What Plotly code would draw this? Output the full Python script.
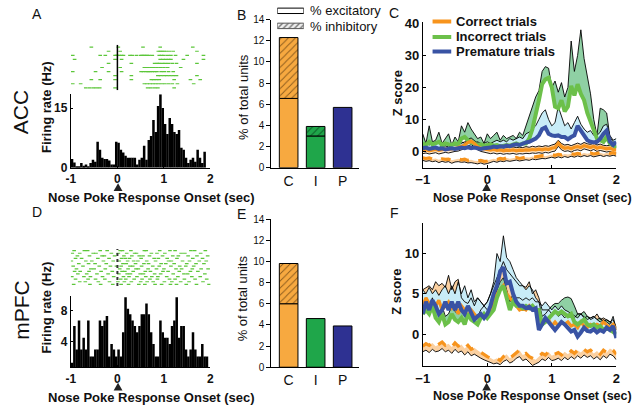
import numpy as np
import plotly.graph_objects as go

W, H = 640, 412
def X(px): return px / W
def Y(py): return 1 - py / H

FONT = "Liberation Sans, Arial, Helvetica, sans-serif"
ORANGE_BAR = "#f7a940"; GREEN_BAR = "#1fa64a"; BLUE_BAR = "#2e3192"
ORANGE = "#f7941d"; GREEN = "#6cc04a"; BLUE = "#3953a4"
F_ORANGE = "#fbd0a0"; F_GREEN = "#8fd0a4"; F_BLUE = "#c8ecf7"
RASTER = "#5cc63a"

# ---------------- data ----------------
# PSTH (0.05 s bins starting at -1 s)
hist_acc = [2.2,1.3,0.3,0.3,1.2,0.5,0.8,0.3,1.2,2.0, 1.5,6.5,4.5,2.5,2.2,2.2,1.8,0.8,0.8,6.5,
            6.3,4.5,3.8,3.0,2.5,2.5,2.5,2.5,0.8,2.0, 2.5,5.5,2.0,7.0,8.0,12.0,9.0,15.5,18.5,15.0,
            11.0,8.5,12.5,11.0,9.0,8.5,9.5,5.0,4.5,2.5, 1.2,2.0,2.5,1.5,4.5,2.5,1.2,4.0]
hist_mpfc = [1.3,6.0,3.0,6.7,3.0,4.5,3.0,6.7,2.1,2.1, 3.0,3.0,6.7,6.0,6.7,7.3,2.1,3.7,3.0,2.1,
             3.0,2.1,5.2,9.7,8.2,7.5,6.7,6.0,5.2,6.0, 7.5,7.5,8.9,7.5,5.2,3.7,2.1,2.1,6.7,5.2,
             4.5,4.5,3.7,6.0,6.7,9.7,4.5,6.0,6.0,3.0, 2.1,3.0,5.2,3.0,2.1,2.1,3.7,2.1,2.1]

# spike rasters (s), one list per trial
raster_acc = [
    [-0.56, 0.02, 0.55, 0.92, 1.62],
    [-0.19, 0.06, 0.88, 0.92, 0.96, 1.0, 1.05, 1.12, 1.2, 1.71],
    [-0.96, -0.37, -0.26, -0.05, -0.02, 0.0, 0.04, 0.09, 0.13, 0.27, 0.32, 0.41, 0.5, 0.53, 0.57, 0.6, 0.64, 0.68, 0.75, 0.9, 0.95, 1.0, 1.08, 1.15, 1.25, 1.5, 1.85],
    [-0.92, -0.05, 0.09, 0.92, 0.98, 1.04, 1.1, 1.15, 1.42, 1.85],
    [-0.19, 0.3, 0.8, 0.86, 0.9, 0.97, 1.03, 1.1, 1.18, 1.27, 1.71],
    [-0.33, 0.06, 0.58, 0.65, 0.72, 0.78, 0.85, 0.92, 1.0, 1.08, 1.36],
    [-0.96, -0.47, -0.19, 0.09, 0.51, 0.56, 0.62, 0.66, 0.7, 0.75, 0.8, 0.85, 0.94, 1.01, 1.1, 1.2],
    [-0.05, 0.3, 0.87, 0.93, 1.0, 1.06, 1.13, 1.2, 1.27, 1.71],
    [-0.56, -0.37, -0.05, 0.3, 0.73, 0.78, 0.84, 0.9, 1.22, 1.57, 1.78],
    [-0.96, -0.79, 0.58, 0.64, 0.7, 0.76, 0.82, 0.88, 0.95, 1.02, 1.1, 1.18, 1.29, 1.64],
    [-0.68, -0.6, -0.52, -0.45, -0.38, -0.05, 0.65, 0.72, 0.8, 0.87, 1.22],
]
raster_mpfc = [
    [-0.93, -0.71, -0.64, -0.37, -0.22, 0.06, 0.11, 0.29, 0.58, 0.62, 0.91, 1.13, 1.24, 1.58, 1.66, 1.89],
    [-0.97, -0.81, -0.52, -0.46, -0.13, 0.02, 0.2, 0.37, 0.41, 0.73, 0.85, 1.02, 1.37, 1.45, 1.79],
    [-0.86, -0.6, -0.33, -0.28, -0.06, 0.14, 0.31, 0.47, 0.55, 0.69, 0.97, 1.19, 1.31, 1.52, 1.71, 1.94],
    [-0.9, -0.77, -0.42, -0.18, 0.09, 0.17, 0.26, 0.51, 0.79, 0.88, 1.07, 1.28, 1.62, 1.83],
    [-0.99, -0.68, -0.55, -0.3, -0.09, 0.04, 0.22, 0.35, 0.44, 0.63, 0.82, 1.1, 1.16, 1.4, 1.55, 1.76, 1.91],
    [-0.83, -0.62, -0.48, -0.24, 0.12, 0.19, 0.39, 0.57, 0.67, 0.94, 1.04, 1.22, 1.49, 1.69, 1.86],
    [-0.95, -0.74, -0.39, -0.15, -0.02, 0.08, 0.27, 0.33, 0.52, 0.76, 0.9, 1.15, 1.34, 1.47, 1.64],
    [-0.88, -0.57, -0.5, -0.26, 0.05, 0.23, 0.4, 0.45, 0.66, 0.84, 1.0, 1.26, 1.38, 1.61, 1.8, 1.95],
    [-0.92, -0.8, -0.61, -0.35, -0.11, 0.1, 0.16, 0.34, 0.6, 0.71, 0.98, 1.09, 1.33, 1.57, 1.73],
    [-0.85, -0.66, -0.44, -0.2, 0.03, 0.21, 0.28, 0.49, 0.56, 0.8, 0.93, 1.2, 1.43, 1.51, 1.88],
    [-0.98, -0.72, -0.58, -0.32, -0.08, 0.13, 0.25, 0.42, 0.61, 0.74, 0.87, 1.06, 1.3, 1.6, 1.78],
    [-0.9, -0.63, -0.47, -0.27, 0.07, 0.18, 0.36, 0.53, 0.7, 0.86, 1.12, 1.24, 1.44, 1.67, 1.92],
    [-0.81, -0.69, -0.41, -0.17, 0.01, 0.15, 0.3, 0.5, 0.64, 0.77, 1.01, 1.17, 1.36, 1.54, 1.84],
    [-0.94, -0.59, -0.36, -0.1, 0.08, 0.24, 0.46, 0.59, 0.81, 0.95, 1.14, 1.27, 1.48, 1.7, 1.97],
]

# % of total units
categories = ["C", "I", "P"]
bar_colors = [ORANGE_BAR, GREEN_BAR, BLUE_BAR]
hatch_colors = ["#8a5a1c", "#0c5a25", "#15174f"]
acc_exc = [6.55, 3.0, 5.7]
acc_inh = [5.75, 0.9, 0.0]
mpfc_exc = [6.0, 4.6, 3.9]
mpfc_inh = [3.8, 0.0, 0.0]

# Z-score time courses (every 0.05 s from -1 to 2 s)
acc_correct_exc = [0.3,0.5,0.2,0.4,0.6,0.3,0.5,0.8,0.6,0.9, 1.0,1.2,1.5,2.0,2.8,3.2,2.5,1.5,1.0,0.8,
                   0.5,0.4,0.6,0.3,0.5,0.2,0.4,0.3,0.5,0.2, 0.4,0.3,0.5,0.4,0.6,0.5,0.7,0.5,0.8,0.6,
                   1.0,1.2,2.6,1.5,1.0,1.2,0.8,1.3,1.5,1.2, 1.8,1.5,1.2,1.6,1.0,1.3,1.0,0.8,1.0,0.6, 0.5]
acc_correct_exc_hi = [1.2,1.4,1.0,1.5,1.4,1.2,1.6,1.7,1.4,1.8, 2.0,2.1,2.6,3.0,3.8,4.2,3.4,2.5,1.9,1.8,
                      1.4,1.3,1.6,1.2,1.4,1.1,1.3,1.3,1.4,1.2, 1.3,1.2,1.5,1.3,1.6,1.4,1.7,1.5,1.8,1.6,
                      2.0,2.3,3.5,2.5,2.0,2.2,1.8,2.3,2.6,2.2, 2.8,2.4,2.2,2.6,2.0,2.3,1.9,1.8,1.9,1.5, 1.4]
acc_correct_exc_lo = [-0.7,-0.5,-0.8,-0.6,-0.4,-0.8,-0.5,-0.3,-0.5,-0.2, 0.0,0.1,0.5,0.9,1.7,2.1,1.5,0.5,0.0,-0.3,
                      -0.6,-0.7,-0.5,-0.8,-0.6,-0.9,-0.7,-0.8,-0.6,-0.9, -0.7,-0.8,-0.6,-0.7,-0.5,-0.6,-0.4,-0.6,-0.3,-0.5,
                      -0.1,0.1,1.6,0.5,0.0,0.2,-0.2,0.3,0.5,0.2, 0.8,0.5,0.2,0.6,0.0,0.3,0.0,-0.2,0.0,-0.4, -0.5]
acc_correct_inh = [-2.0,-2.2,-2.0,-2.4,-2.2,-2.6,-2.3,-2.5,-2.4,-2.8, -2.5,-2.3,-2.6,-2.4,-2.8,-2.6,-2.9,-3.0,-2.8,-3.1,
                   -3.0,-2.6,-2.3,-2.5,-2.2,-2.4,-2.0,-2.3,-2.1,-1.9, -2.2,-2.0,-1.8,-1.9,-1.6,-1.7,-1.5,-1.3,-1.5,-1.2,
                   -1.0,-1.2,-0.9,-1.1,-0.8,-1.0,-0.7,-0.9,-0.6,-0.8, -0.5,-0.7,-0.5,-0.8,-0.6,-0.4,-0.7,-0.5,-0.6,-0.4, -0.7]
acc_correct_inh_lo = [-2.8,-3.1,-2.9,-3.2,-3.0,-3.5,-3.1,-3.4,-3.2,-3.7, -3.3,-3.2,-3.4,-3.3,-3.6,-3.5,-3.7,-3.9,-3.6,-4.0,
                      -3.8,-3.5,-3.1,-3.4,-3.0,-3.2,-2.9,-3.1,-3.0,-2.7, -3.0,-2.9,-2.6,-2.8,-2.4,-2.6,-2.3,-2.2,-2.3,-2.1,
                      -1.8,-2.1,-1.7,-2.0,-1.6,-1.9,-1.5,-1.8,-1.4,-1.7, -1.3,-1.6,-1.3,-1.7,-1.4,-1.2,-1.6,-1.3,-1.5,-1.2, -1.5]
acc_incorrect = [2.5,2.0,3.0,2.2,2.5,3.0,2.0,2.5,2.2,2.0, 2.5,2.2,4.0,4.5,3.5,2.8,2.5,2.0,2.2,1.8,
                 2.0,2.2,1.8,2.0,1.5,1.8,2.0,1.8,2.2,2.5, 2.0,2.5,2.5,4.0,7.0,11.0,16.0,21.0,22.5,23.0,
                 20.0,14.0,13.5,16.0,12.5,14.0,20.5,17.5,21.0,18.0, 16.0,12.0,9.5,6.5,4.0,3.5,3.0,4.5,2.5,2.0, 1.0]
acc_incorrect_hi = [5.5,2.5,8.0,3.0,3.5,6.0,2.5,4.0,5.5,2.0, 4.5,3.0,8.0,6.0,9.0,7.0,5.5,4.0,4.5,2.5,
                    5.5,4.0,5.0,6.0,3.5,5.0,4.0,4.5,5.0,4.0, 6.0,5.0,8.0,10.5,14.0,17.0,19.0,25.0,26.5,26.0,
                    20.0,22.0,18.5,21.5,17.0,20.0,34.5,25.0,30.0,38.0, 29.0,23.0,18.0,10.0,5.0,13.5,13.0,12.0,4.5,3.0, 2.0]
acc_premature = [1.0,1.2,0.8,1.0,1.2,0.8,1.0,0.6,0.8,1.0, 0.8,1.0,1.2,1.0,1.3,1.0,1.2,1.0,0.8,1.0,
                 1.0,1.2,1.5,1.3,1.6,1.5,1.8,1.6,2.0,2.2, 2.0,2.5,2.8,3.0,3.5,4.0,5.0,7.0,7.5,5.5,
                 5.0,4.8,5.0,4.5,4.5,3.8,4.5,5.0,8.0,6.5, 4.5,3.5,3.0,2.8,3.0,4.0,5.5,6.5,3.0,2.0, 3.0]
acc_premature_hi = [2.0,2.5,2.0,2.5,3.0,2.5,2.0,2.0,2.5,2.0, 2.5,2.0,3.0,2.5,3.5,3.0,2.5,3.0,2.5,2.5,
                    3.0,2.5,3.0,3.5,3.0,3.5,3.0,4.0,3.5,4.0, 4.5,4.0,5.5,6.0,7.0,8.0,10.0,12.0,13.0,10.0,
                    8.0,9.0,14.0,11.0,8.0,9.0,7.0,9.0,11.0,8.5, 7.0,6.0,6.5,5.0,5.0,6.0,8.0,8.5,5.0,3.5, 4.0]

mpfc_premature = [2.5,4.0,3.0,4.2,3.5,2.5,3.0,4.0,3.0,4.0, 3.0,4.0,3.0,2.5,3.5,2.5,1.8,2.2,2.5,2.0,
                  2.5,3.5,5.0,6.0,7.8,8.3,6.3,6.5,5.0,4.0, 3.5,3.5,3.2,3.4,3.0,3.2,0.5,1.2,2.0,1.5,
                  1.0,0.5,1.0,1.5,1.2,0.8,0.3,0.5,-0.3,0.2, 0.8,0.4,0.3,0.6,0.2,0.5,0.3,0.8,0.5,1.0, -0.5]
mpfc_premature_hi = [5.5,5.0,5.8,5.0,5.5,4.8,5.5,6.0,5.0,6.0, 5.0,6.5,5.0,6.0,4.5,5.5,4.0,4.5,4.0,3.5,
                     4.0,5.0,6.5,10.0,9.0,12.2,9.5,9.0,8.0,7.0, 6.5,6.0,5.5,6.0,5.5,4.5,4.0,3.5,4.0,3.5,
                     3.0,3.5,3.0,3.5,3.0,2.8,2.5,2.2,2.0,2.5, 2.2,1.8,2.0,2.2,1.8,1.5,1.8,1.5,1.2,2.2, 0.5]
mpfc_correct_exc = [3.5,4.5,3.8,4.0,3.5,4.2,3.0,3.5,4.0,3.2, 3.5,2.5,3.5,3.0,2.0,3.0,2.5,2.0,2.0,2.5,
                    2.2,3.0,4.0,5.0,5.5,6.0,5.0,4.5,4.0,3.5, 3.0,3.2,3.0,3.5,3.0,3.2,2.5,1.2,1.5,1.8,
                    1.0,1.5,1.0,1.5,1.2,1.5,1.0,1.2,0.8,1.5, 1.0,0.8,1.2,1.0,1.2,1.0,1.5,1.2,0.8,1.2, 0.5]
mpfc_correct_exc_hi = [5.5,5.8,6.0,5.5,6.5,6.0,6.3,5.8,7.3,5.5, 6.5,6.8,4.5,4.0,3.8,4.5,3.5,4.5,4.0,3.5,
                       4.0,5.0,6.0,7.0,8.0,9.0,8.0,7.5,7.0,6.5, 6.0,6.0,5.8,6.5,5.0,5.5,4.5,3.0,3.0,3.0,
                       2.5,2.8,2.2,2.5,2.0,2.5,2.2,2.0,2.5,2.5, 2.0,2.2,1.8,2.0,2.5,1.8,2.0,1.8,1.5,1.8, 0.8]
mpfc_incorrect = [2.5,3.0,2.5,3.5,2.0,1.5,2.5,1.2,1.5,2.5, 1.8,1.5,2.0,1.2,2.5,1.8,1.5,1.2,2.0,2.5,
                  2.0,2.5,3.0,4.5,5.5,6.0,4.5,3.0,4.0,3.5, 3.5,3.2,3.5,3.2,3.5,3.0,3.0,1.2,1.5,2.0,
                  2.5,2.8,2.5,2.8,2.5,2.2,2.5,1.5,1.2,1.5, 1.8,1.2,1.0,1.2,0.8,1.0,0.5,0.8,0.5,0.3, 0.0]
mpfc_incorrect_hi = [3.5,4.0,3.5,4.5,3.0,2.5,3.5,2.2,2.5,3.5, 2.8,2.5,3.0,2.2,3.5,2.8,2.5,2.2,3.0,3.5,
                     3.0,3.5,4.0,5.5,6.5,7.0,5.5,4.0,5.0,4.5, 4.5,4.2,4.5,4.2,4.5,4.0,4.0,2.2,2.5,3.0,
                     3.5,3.8,3.8,4.2,4.5,4.6,4.4,3.5,2.5,2.5, 2.8,2.2,2.0,2.2,1.8,2.0,1.5,1.8,1.5,1.3, 1.0]
mpfc_correct_inh = [-1.5,-1.2,-1.4,-1.1,-1.5,-1.3,-1.0,-1.4,-1.2,-1.6, -1.1,-1.5,-1.3,-1.8,-1.4,-1.9,-1.7,-2.0,-2.3,-2.5,
                    -2.8,-3.0,-3.2,-3.0,-3.3,-2.8,-2.5,-3.0,-2.7,-2.3, -2.0,-2.6,-2.4,-2.8,-3.0,-3.2,-2.8,-2.4,-2.6,-2.2,
                    -2.7,-2.5,-2.3,-2.6,-2.2,-2.5,-2.1,-2.4,-2.0,-2.3, -1.9,-2.2,-2.0,-2.4,-2.1,-2.5,-2.0,-2.3,-1.8,-2.0, -2.5]
mpfc_correct_inh_lo = [-2.2,-2.0,-2.3,-1.9,-2.2,-2.1,-1.8,-2.2,-2.0,-2.4, -1.9,-2.3,-2.1,-2.6,-2.2,-2.7,-2.5,-2.8,-3.0,-3.2,
                       -3.4,-3.6,-3.7,-3.6,-3.8,-3.4,-3.2,-3.6,-3.4,-3.0, -2.8,-3.3,-3.1,-3.5,-3.9,-3.7,-3.5,-3.1,-3.3,-2.9,
                       -3.3,-3.2,-3.0,-3.3,-2.9,-3.2,-2.8,-3.1,-2.7,-3.0, -2.6,-2.9,-2.7,-3.1,-2.8,-3.2,-2.7,-3.0,-2.5,-2.7, -3.2]

t = np.round(np.linspace(-1, 2, 61), 3).tolist()

fig = go.Figure()

# ---------------- rasters ----------------
def add_raster(rows, xa, ya):
    xs, ys = [], []
    for i, row in enumerate(rows):
        xs += row
        ys += [len(rows) - 1 - i] * len(row)
    fig.add_trace(go.Scatter(x=xs, y=ys, mode="markers", xaxis=xa, yaxis=ya,
                             marker=dict(symbol="line-ew", size=2.6,
                                         line=dict(width=1.2, color=RASTER)),
                             hoverinfo="skip"))

add_raster(raster_acc, "x", "y")
add_raster(raster_mpfc, "x5", "y5")

# ---------------- histograms ----------------
def add_hist(vals, xa, ya):
    centers = [round(-1 + 0.05 * i + 0.025, 4) for i in range(len(vals))]
    fig.add_trace(go.Bar(x=centers, y=vals, width=0.054, xaxis=xa, yaxis=ya,
                         marker=dict(color="black", line=dict(width=0))))

add_hist(hist_acc, "x2", "y2")
add_hist(hist_mpfc, "x6", "y6")

# ---------------- bar charts ----------------
def add_bars(exc, inh, xa, ya):
    for i, cat in enumerate(categories):
        fig.add_trace(go.Bar(x=[i], y=[exc[i]], width=0.69, xaxis=xa, yaxis=ya,
                             marker=dict(color=bar_colors[i], line=dict(color="black", width=1))))
        if inh[i] > 0:
            fig.add_trace(go.Bar(x=[i], y=[inh[i]], base=[exc[i]], width=0.69, xaxis=xa, yaxis=ya,
                                 marker=dict(color=bar_colors[i], line=dict(color="black", width=1),
                                             pattern=dict(shape="/", fillmode="replace",
                                                          bgcolor=bar_colors[i], fgcolor=hatch_colors[i],
                                                          size=5, solidity=0.18))))

add_bars(acc_exc, acc_inh, "x3", "y3")
add_bars(mpfc_exc, mpfc_inh, "x7", "y7")

# legend swatches for the bar charts
fig.add_trace(go.Bar(x=[1], y=[1], orientation="h", width=0.36, xaxis="x9", yaxis="y9",
                     marker=dict(color="white", line=dict(color="black", width=1))))
fig.add_trace(go.Bar(x=[1], y=[0], orientation="h", width=0.36, xaxis="x9", yaxis="y9",
                     marker=dict(color="#eeeeee", line=dict(color="#555", width=1),
                                 pattern=dict(shape="/", fillmode="replace", bgcolor="#eeeeee",
                                              fgcolor="#777777", size=4, solidity=0.35))))

# ---------------- z-score panels ----------------
def band(mean, edge, color, xa, ya):
    fig.add_trace(go.Scatter(x=t + t[::-1], y=list(edge) + list(mean)[::-1], fill="toself",
                             fillcolor=color, line=dict(width=0), mode="lines",
                             xaxis=xa, yaxis=ya, hoverinfo="skip"))

def edge_line(edge, xa, ya):
    fig.add_trace(go.Scatter(x=t, y=edge, mode="lines", line=dict(color="black", width=0.9),
                             xaxis=xa, yaxis=ya, hoverinfo="skip"))

def mean_line(mean, color, xa, ya, width=4, dash="solid"):
    fig.add_trace(go.Scatter(x=t, y=mean, mode="lines", line=dict(color=color, width=width, dash=dash),
                             xaxis=xa, yaxis=ya, hoverinfo="skip"))

# C (ACC)
band(acc_correct_exc, acc_correct_exc_hi, F_ORANGE, "x4", "y4")
band(acc_correct_exc, acc_correct_exc_lo, "#fde6cc", "x4", "y4")
band(acc_correct_inh, acc_correct_inh_lo, F_ORANGE, "x4", "y4")
band(acc_incorrect, acc_incorrect_hi, F_GREEN, "x4", "y4")
band(acc_premature, acc_premature_hi, F_BLUE, "x4", "y4")
for e in (acc_correct_exc_hi, acc_correct_exc_lo, acc_correct_inh_lo, acc_incorrect_hi, acc_premature_hi):
    edge_line(e, "x4", "y4")
mean_line(acc_incorrect, GREEN, "x4", "y4", 4)
mean_line(acc_correct_inh, ORANGE, "x4", "y4", 3.2, "dash")
mean_line(acc_correct_exc, ORANGE, "x4", "y4", 3.2)
mean_line(acc_premature, BLUE, "x4", "y4", 4)

# F (mPFC)
band(mpfc_correct_exc, mpfc_correct_exc_hi, F_ORANGE, "x8", "y8")
band(mpfc_incorrect, mpfc_incorrect_hi, F_GREEN, "x8", "y8")
band(mpfc_premature, mpfc_premature_hi, F_BLUE, "x8", "y8")
band(mpfc_correct_inh, mpfc_correct_inh_lo, F_ORANGE, "x8", "y8")
for e in (mpfc_correct_exc_hi, mpfc_incorrect_hi, mpfc_premature_hi, mpfc_correct_inh_lo):
    edge_line(e, "x8", "y8")
mean_line(mpfc_correct_exc, ORANGE, "x8", "y8", 3.2)
mean_line(mpfc_incorrect, GREEN, "x8", "y8", 4)
mean_line(mpfc_correct_inh, ORANGE, "x8", "y8", 3.2, "dash")
mean_line(mpfc_premature, BLUE, "x8", "y8", 4)

# ---------------- axes ----------------
def hidden(dom, rng, anchor):
    return dict(domain=dom, range=rng, visible=False, anchor=anchor, fixedrange=True)

def shown(dom, rng, anchor, **kw):
    d = dict(domain=dom, range=rng, anchor=anchor, showgrid=False, zeroline=False,
             showline=True, linecolor="black", linewidth=1, tickcolor="black",
             tickfont=dict(family=FONT, size=12, color="#111", weight="bold"), fixedrange=True)
    d.update(kw)
    return d

xa_psth = [X(65), X(207)]
xa_bar = [X(269), X(358)]
xa_z = [X(423), X(620)]

layout = dict(
    width=W, height=H, margin=dict(l=0, r=0, t=0, b=0), autosize=False,
    paper_bgcolor="white", plot_bgcolor="white", showlegend=False, barmode="overlay",
    font=dict(family=FONT, color="#111"),
    # A
    xaxis=hidden(xa_psth, [-1, 2], "y"),
    yaxis=hidden([Y(87), Y(40)], [-0.6, len(raster_acc) - 0.4], "x"),
    xaxis2=shown(xa_psth, [-1, 2], "y2", tickvals=[-1, 0, 1, 2], ticktext=["-1", "0", "1", "2"],
                 ticks="inside", ticklen=2),
    yaxis2=shown([Y(167), Y(91)], [0, 18.5], "x2", tickvals=[0, 15], ticks="inside", ticklen=2),
    # B
    xaxis3=shown(xa_bar, [-0.64, 2.6], "y3", tickvals=[0, 1, 2], ticktext=categories, ticks="",
                 tickfont=dict(family=FONT, size=14, color="#111")),
    yaxis3=shown([Y(167), Y(14)], [0, 14], "x3", tickvals=list(range(0, 15, 2)), ticks="outside",
                 ticklen=4, tickfont=dict(family=FONT, size=10, color="#111")),
    # C
    xaxis4=shown(xa_z, [-1, 2], "y4", tickvals=[-1, 0, 1, 2], ticktext=["\u22121", "0", "1", "2"],
                 ticks="inside", ticklen=3, tickfont=dict(family=FONT, size=13, color="#111", weight="bold")),
    yaxis4=shown([Y(167), Y(17)], [-5.1, 40.3], "x4", tickvals=[0, 10, 20, 30, 40], ticks="inside",
                 ticklen=3, tickfont=dict(family=FONT, size=13, color="#111", weight="bold")),
    # D
    xaxis5=hidden(xa_psth, [-1, 2], "y5"),
    yaxis5=hidden([Y(289), Y(251)], [-0.6, len(raster_mpfc) - 0.4], "x5"),
    xaxis6=shown(xa_psth, [-1, 2], "y6", tickvals=[-1, 0, 1, 2], ticktext=["-1", "0", "1", "2"],
                 ticks="inside", ticklen=2),
    yaxis6=shown([Y(373), Y(299)], [0.73, 9.9], "x6", tickvals=[4, 8], ticks="inside", ticklen=2),
    # E
    xaxis7=shown(xa_bar, [-0.64, 2.6], "y7", tickvals=[0, 1, 2], ticktext=categories, ticks="",
                 tickfont=dict(family=FONT, size=14, color="#111")),
    yaxis7=shown([Y(373), Y(220)], [0, 14], "x7", tickvals=list(range(0, 15, 2)), ticks="outside",
                 ticklen=4, tickfont=dict(family=FONT, size=10, color="#111")),
    # F
    xaxis8=shown(xa_z, [-1, 2], "y8", tickvals=[-1, 0, 1, 2], ticktext=["\u22121", "0", "1", "2"],
                 ticks="inside", ticklen=3, tickfont=dict(family=FONT, size=13, color="#111", weight="bold")),
    yaxis8=shown([Y(372), Y(224)], [-4, 13.8], "x8", tickvals=[0, 5, 10], ticks="inside",
                 ticklen=3, tickfont=dict(family=FONT, size=13, color="#111", weight="bold")),
    # legend swatches
    xaxis9=hidden([X(275), X(302)], [0, 1], "y9"),
    yaxis9=hidden([Y(28), Y(0)], [-0.48, 1.32], "x9"),
)
fig.update_layout(**layout)

# ---------------- shapes ----------------
shapes = []
shapes.append(dict(type="line", xref="x", yref="y", x0=0, x1=0, y0=-0.6, y1=len(raster_acc) - 0.4,
                   line=dict(color="black", width=1.5)))
shapes.append(dict(type="line", xref="x5", yref="y5", x0=0, x1=0, y0=-0.6, y1=len(raster_mpfc) - 0.4,
                   line=dict(color="#333", width=2, dash="dot")))
legend_rows = [("Correct trials", ORANGE, 16), ("Incorrect trials", GREEN, 32), ("Premature trials", BLUE, 47)]
for name, col, py in legend_rows:
    shapes.append(dict(type="line", xref="paper", yref="paper", x0=X(433), x1=X(452), y0=Y(py), y1=Y(py),
                       line=dict(color=col, width=4)))

# event markers (triangles under t = 0)
def tri(cx, top, bottom, half=4.5):
    return dict(type="path", xref="paper", yref="paper",
                path=f"M {X(cx - half)},{Y(bottom)} L {X(cx + half)},{Y(bottom)} L {X(cx)},{Y(top)} Z",
                fillcolor="#222", line=dict(width=0))
shapes += [tri(113, 183, 191), tri(488, 183, 191), tri(113, 389, 397), tri(488, 389, 397)]
fig.update_layout(shapes=shapes)

# ---------------- text ----------------
def ann(text, px, py, size, bold=False, angle=0, xanchor="center", yanchor="middle"):
    fig.add_annotation(text=f"<b>{text}</b>" if bold else text, x=X(px), y=Y(py), xref="paper", yref="paper",
                       showarrow=False, textangle=angle, xanchor=xanchor, yanchor=yanchor,
                       font=dict(family=FONT, size=size, color="#111"))

ann("A", 31, 8, 14)
ann("ACC", 14, 110, 21, angle=-90)
ann("Firing rate (Hz)", 40, 104, 13, bold=True, angle=-90)
ann("Nose Poke Response Onset (sec)", 147, 198, 13, bold=True)

ann("B", 239, 9, 14)
ann("% of total units", 240, 94, 13, angle=-90)
ann("% excitatory", 306, 5, 13, xanchor="left")
ann("% inhibitory", 306, 21.5, 13, xanchor="left")

ann("C", 394, 7, 14)
ann("Z score", 397, 90, 13, bold=True, angle=-90)
for name, col, py in legend_rows:
    ann(name, 455, py, 13, bold=True, xanchor="left")
ann("Nose Poke Response Onset (sec)", 535, 198, 12.5, bold=True)

ann("D", 31, 213, 14)
ann("mPFC", 14, 314, 21, angle=-90)
ann("Firing rate (Hz)", 40, 311, 13, bold=True, angle=-90)
ann("Nose Poke Response Onset (sec)", 147, 404, 13, bold=True)

ann("E", 239, 215, 14)
ann("% of total units", 240, 302, 13, angle=-90)

ann("F", 394, 214, 14)
ann("Z score", 397, 295, 13, bold=True, angle=-90)
ann("Nose Poke Response Onset (sec)", 535, 403, 12.5, bold=True)

fig.write_html("out.html", config={"displayModeBar": False},
               post_script="document.body.style.margin='0px';")
